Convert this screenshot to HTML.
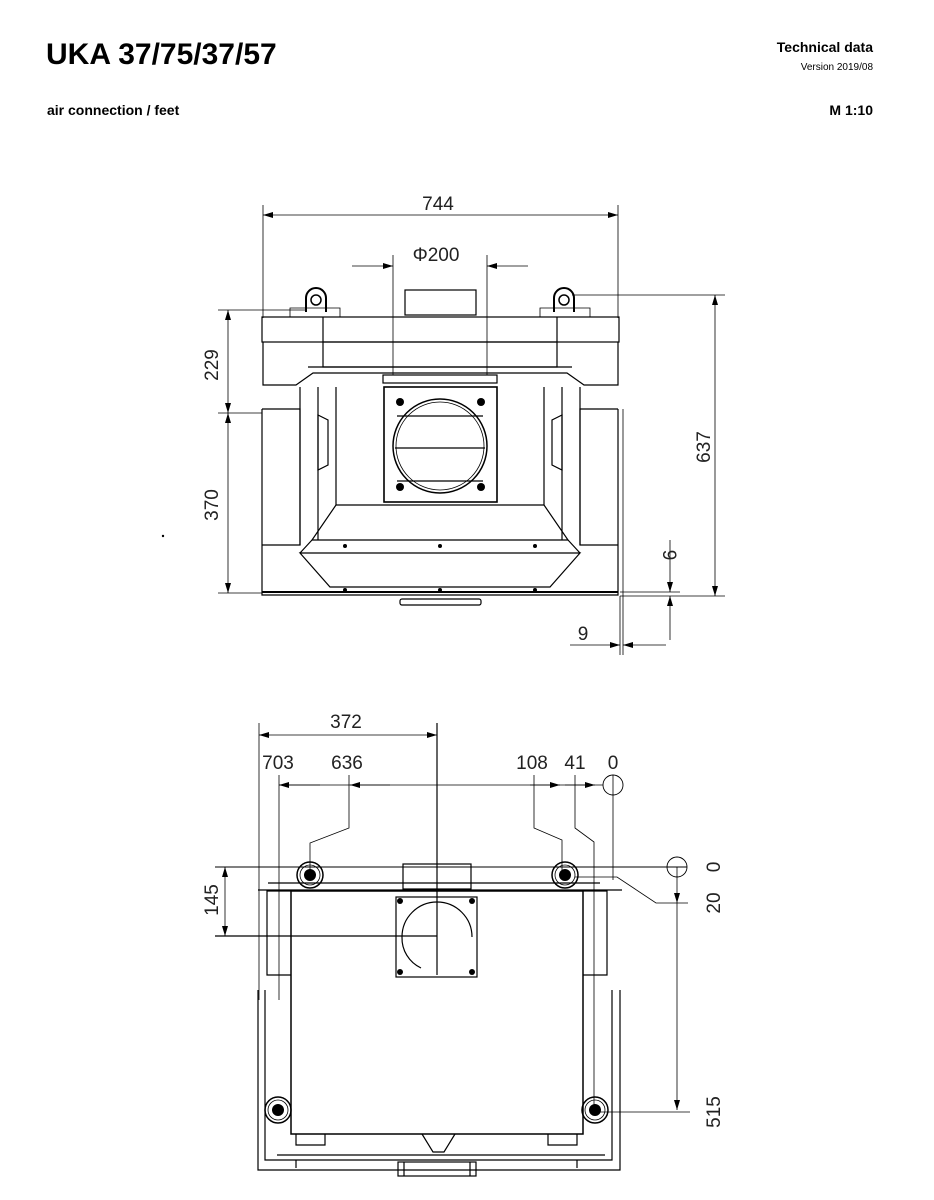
<!DOCTYPE html>
<html><head><meta charset="utf-8"><style>
html,body{margin:0;padding:0;background:#fff;}
body{width:934px;height:1200px;overflow:hidden;font-family:"Liberation Sans",sans-serif;}
svg{position:absolute;left:0;top:0}
.t{font-family:"Liberation Sans",sans-serif;}
</style></head><body>
<svg width="934" height="1200" viewBox="0 0 934 1200" xmlns="http://www.w3.org/2000/svg">
<defs>
<marker id="a" viewBox="0 0 10 6" refX="10" refY="3" markerWidth="10" markerHeight="6" orient="auto-start-reverse" markerUnits="userSpaceOnUse"><path d="M0,0 L10,3 L0,6 z" fill="#000"/></marker>
</defs>
<text x="46" y="64" font-size="30" font-weight="bold" class="t">UKA 37/75/37/57</text>
<text x="873" y="52" font-size="14" font-weight="bold" text-anchor="end" class="t">Technical data</text>
<text x="873" y="70" font-size="10" text-anchor="end" class="t">Version 2019/08</text>
<text x="47" y="115" font-size="14" font-weight="bold" class="t">air connection / feet</text>
<text x="873" y="115" font-size="14" font-weight="bold" text-anchor="end" class="t">M 1:10</text>

<g fill="none" stroke="#000" stroke-width="1.2">
<!-- TOP VIEW -->
<line x1="263" y1="205" x2="263" y2="318" stroke-width="0.8"/>
<line x1="618" y1="205" x2="618" y2="318" stroke-width="0.8"/>
<line x1="263" y1="215" x2="618" y2="215" marker-start="url(#a)" marker-end="url(#a)" stroke-width="0.8"/>
<line x1="393" y1="255" x2="393" y2="375" stroke-width="0.8"/>
<line x1="487" y1="255" x2="487" y2="375" stroke-width="0.8"/>
<line x1="352" y1="266" x2="393" y2="266" marker-end="url(#a)" stroke-width="0.8"/>
<line x1="528" y1="266" x2="487" y2="266" marker-end="url(#a)" stroke-width="0.8"/>
<rect x="405" y="290" width="71" height="25"/>
<rect x="262" y="317" width="357" height="25"/>
<rect x="323" y="342" width="234" height="25"/>
<line x1="323" y1="317" x2="323" y2="342"/><line x1="557" y1="317" x2="557" y2="342"/>
<path d="M263 342 V385 H296 L313 373 H567 L584 385 H618 V342"/>
<path d="M308 367 H572"/>
<rect x="383" y="375" width="114" height="8"/>
<rect x="384" y="387" width="113" height="115" stroke-width="1.6"/>
<circle cx="440" cy="446" r="47" stroke-width="1.5"/><circle cx="440" cy="446" r="44" stroke-width="0.8"/>
<line x1="397" y1="416" x2="483" y2="416"/><line x1="395" y1="448" x2="485" y2="448"/><line x1="397" y1="481" x2="483" y2="481"/>
<path d="M262 409 V595 H618 V409"/>
<path d="M262 409 H300 V545 H262"/><path d="M618 409 H580 V545 H618"/>
<path d="M300 387 V545 M318 387 V540 M336 387 V505 M580 387 V545 M562 387 V540 M544 387 V505"/>
<path d="M336 505 H544 L568 540 H312 Z"/>
<path d="M300 553 H580 L550 587 H330 Z"/>
<path d="M312 540 L300 553 M568 540 L580 553"/>
<line x1="262" y1="592" x2="618" y2="592" stroke-width="2"/>
<rect x="400" y="599" width="81" height="6" rx="2"/>
<path d="M318 415 L328 420 V465 L318 470 Z M562 415 L552 420 V465 L562 470 Z"/>
<path d="M306 312 V298 A10 10 0 0 1 326 298 V312" stroke-width="2"/><circle cx="316" cy="300" r="5" stroke-width="1.5"/>
<path d="M554 312 V298 A10 10 0 0 1 574 298 V312" stroke-width="2"/><circle cx="564" cy="300" r="5" stroke-width="1.5"/>
<path d="M290 317 V308 H340 V317 M540 317 V308 H590 V317" stroke-width="0.8"/>
<line x1="623" y1="409" x2="623" y2="655" stroke-width="0.8"/>
<!-- left dims -->
<line x1="218" y1="310" x2="306" y2="310" stroke-width="0.8"/>
<line x1="218" y1="413" x2="262" y2="413" stroke-width="0.8"/>
<line x1="218" y1="593" x2="262" y2="593" stroke-width="0.8"/>
<line x1="228" y1="310" x2="228" y2="413" marker-start="url(#a)" marker-end="url(#a)" stroke-width="0.8"/>
<line x1="228" y1="413" x2="228" y2="593" marker-start="url(#a)" marker-end="url(#a)" stroke-width="0.8"/>
<!-- right dims -->
<line x1="572" y1="295" x2="725" y2="295" stroke-width="0.8"/>
<line x1="620" y1="596" x2="725" y2="596" stroke-width="0.8"/>
<line x1="620" y1="592" x2="680" y2="592" stroke-width="0.8"/>
<line x1="715" y1="295" x2="715" y2="596" marker-start="url(#a)" marker-end="url(#a)" stroke-width="0.8"/>
<line x1="670" y1="540" x2="670" y2="592" marker-end="url(#a)" stroke-width="0.8"/>
<line x1="670" y1="640" x2="670" y2="596" marker-end="url(#a)" stroke-width="0.8"/>
<line x1="570" y1="645" x2="620" y2="645" marker-end="url(#a)" stroke-width="0.8"/>
<line x1="666" y1="645" x2="623" y2="645" marker-end="url(#a)" stroke-width="0.8"/>
<line x1="620" y1="596" x2="620" y2="655" stroke-width="0.8"/>

<!-- BOTTOM VIEW -->
<line x1="259" y1="723" x2="259" y2="1000" stroke-width="0.8"/>
<line x1="437" y1="723" x2="437" y2="975" stroke-width="1.2"/>
<line x1="259" y1="735" x2="437" y2="735" marker-start="url(#a)" marker-end="url(#a)" stroke-width="0.8"/>
<line x1="279" y1="775" x2="279" y2="1000" stroke-width="0.8"/>
<line x1="279" y1="785" x2="603" y2="785" stroke-width="0.8"/>
<line x1="279" y1="785" x2="320" y2="785" marker-start="url(#a)" stroke-width="0.8"/>
<line x1="350" y1="785" x2="390" y2="785" marker-start="url(#a)" stroke-width="0.8"/>
<line x1="530" y1="785" x2="560" y2="785" marker-end="url(#a)" stroke-width="0.8"/>
<line x1="565" y1="785" x2="595" y2="785" marker-end="url(#a)" stroke-width="0.8"/>
<circle cx="613" cy="785" r="10" stroke-width="0.9"/>
<line x1="613" y1="775" x2="613" y2="880" stroke-width="0.8"/>
<path d="M349 775 V828 L310 843 V875" stroke-width="0.8"/>
<path d="M534 775 V828 L562 840 V875" stroke-width="0.8"/>
<path d="M575 775 V828 L594 842 V1105" stroke-width="0.8"/>
<line x1="215" y1="867" x2="687" y2="867" stroke-width="1"/>
<circle cx="677" cy="867" r="10" stroke-width="0.9"/>
<path d="M575 877 H617 L656 903 H688" stroke-width="0.8"/>
<line x1="677" y1="867" x2="677" y2="903" marker-end="url(#a)" stroke-width="0.8"/>
<line x1="677" y1="903" x2="677" y2="1110" marker-end="url(#a)" stroke-width="0.8"/>
<line x1="594" y1="1112" x2="690" y2="1112" stroke-width="0.8"/>
<line x1="215" y1="936" x2="437" y2="936" stroke-width="1.2"/>
<line x1="225" y1="867" x2="225" y2="936" marker-start="url(#a)" marker-end="url(#a)" stroke-width="0.8"/>
<rect x="291" y="891" width="292" height="243" stroke-width="1.5"/>
<path d="M291 891 H267 V975 H291 M583 891 H607 V975 H583"/>
<path d="M258 890 H622 M268 883 H600"/>
<path d="M258 990 V1170 H620 V990 M265 990 V1160 H612 V990"/>
<path d="M296 1160 V1168 M577 1160 V1168 M277 1155 H605"/>
<rect x="396" y="897" width="81" height="80"/>
<path d="M402 937 A33 33 0 1 1 472 937 M402 937 A33 33 0 0 0 421 968"/>
<rect x="403" y="864" width="68" height="25"/>
<path d="M296 1134 V1145 H325 V1134 M548 1134 V1145 H577 V1134"/>
<path d="M422 1134 L433 1152 H444 L455 1134"/>
<rect x="398" y="1162" width="78" height="14"/>
<path d="M404 1162 V1176 M470 1162 V1176"/>
<g stroke-width="1.5">
<circle cx="310" cy="875" r="13"/><circle cx="310" cy="875" r="10" stroke-width="0.8"/>
<circle cx="565" cy="875" r="13"/><circle cx="565" cy="875" r="10" stroke-width="0.8"/>
<circle cx="278" cy="1110" r="13"/><circle cx="278" cy="1110" r="10" stroke-width="0.8"/>
<circle cx="595" cy="1110" r="13"/><circle cx="595" cy="1110" r="10" stroke-width="0.8"/>
</g>
</g>
<g fill="#000">
<circle cx="310" cy="875" r="6"/><circle cx="565" cy="875" r="6"/>
<circle cx="278" cy="1110" r="6"/><circle cx="595" cy="1110" r="6"/>
<circle cx="400" cy="402" r="4"/><circle cx="481" cy="402" r="4"/><circle cx="400" cy="487" r="4"/><circle cx="481" cy="487" r="4"/>
<circle cx="400" cy="901" r="3"/><circle cx="472" cy="901" r="3"/><circle cx="400" cy="972" r="3"/><circle cx="472" cy="972" r="3"/>
<circle cx="345" cy="546" r="2"/><circle cx="440" cy="546" r="2"/><circle cx="535" cy="546" r="2"/>
<circle cx="345" cy="590" r="2"/><circle cx="440" cy="590" r="2"/><circle cx="535" cy="590" r="2"/>
<circle cx="163" cy="536" r="1.2"/>
</g>
<g font-size="19" class="t" fill="#222" font-family="DejaVu Sans Condensed, Liberation Sans, sans-serif">
<text x="438" y="210" text-anchor="middle">744</text>
<text x="436" y="261" text-anchor="middle">Φ200</text>
<text transform="translate(218,365) rotate(-90)" text-anchor="middle">229</text>
<text transform="translate(218,505) rotate(-90)" text-anchor="middle">370</text>
<text transform="translate(710,447) rotate(-90)" text-anchor="middle">637</text>
<text transform="translate(663,555) rotate(90)" text-anchor="middle">9</text>
<text x="583" y="640" text-anchor="middle">9</text>
<text x="346" y="728" text-anchor="middle">372</text>
<text x="278" y="769" text-anchor="middle">703</text>
<text x="347" y="769" text-anchor="middle">636</text>
<text x="532" y="769" text-anchor="middle">108</text>
<text x="575" y="769" text-anchor="middle">41</text>
<text x="613" y="769" text-anchor="middle">0</text>
<text transform="translate(218,900) rotate(-90)" text-anchor="middle">145</text>
<text transform="translate(720,867) rotate(-90)" text-anchor="middle">0</text>
<text transform="translate(720,903) rotate(-90)" text-anchor="middle">20</text>
<text transform="translate(720,1112) rotate(-90)" text-anchor="middle">515</text>
</g>
</svg>
</body></html>
